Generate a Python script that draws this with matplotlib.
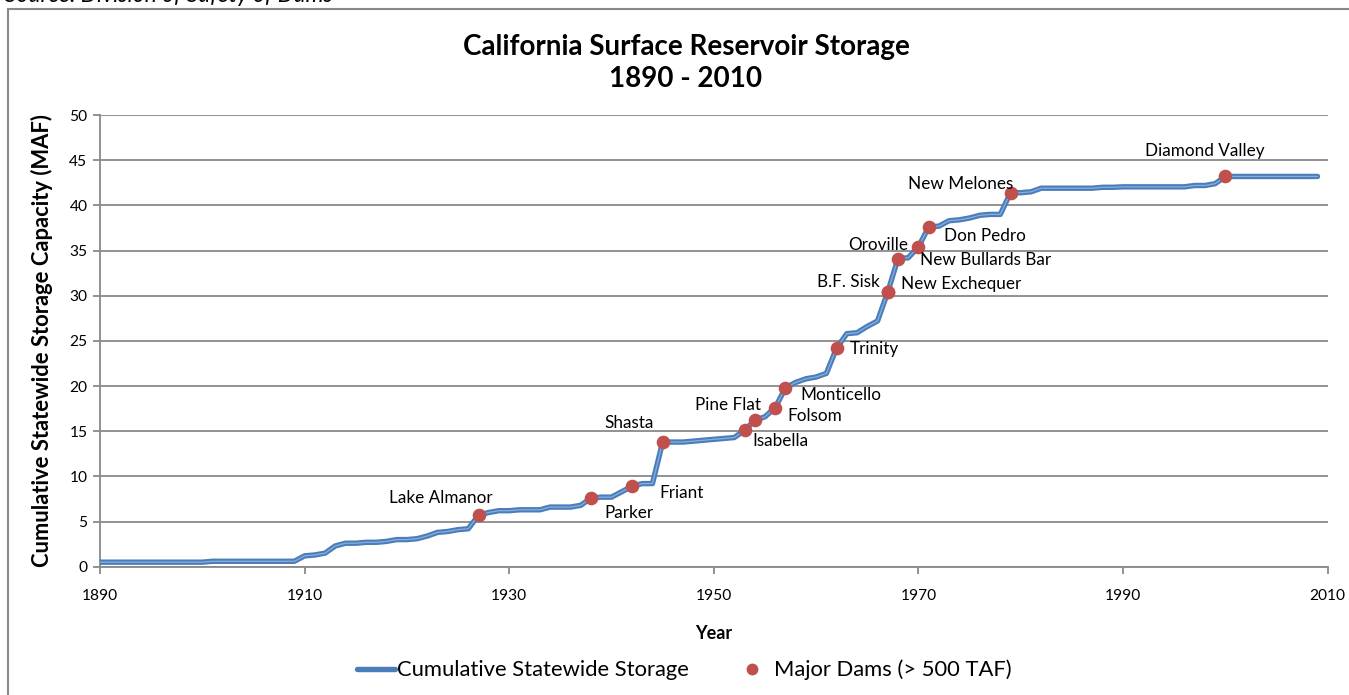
import matplotlib
matplotlib.use("Agg")
import matplotlib.pyplot as plt
import matplotlib.patches as patches
from matplotlib.lines import Line2D
import numpy as np

# Cumulative statewide storage (MAF), one value per year 1890-2009
years = np.arange(1890, 2010)
storage = (
    [0.5] * 11                                                      # 1890-1900
    + [0.6] * 9                                                     # 1901-1909
    + [1.2, 1.3, 1.5, 2.3, 2.6, 2.6, 2.7, 2.7, 2.8, 3.0]            # 1910s
    + [3.0, 3.1, 3.4, 3.8, 3.9, 4.1, 4.2, 5.7, 6.0, 6.2]            # 1920s
    + [6.2, 6.3, 6.3, 6.3, 6.6, 6.6, 6.6, 6.8, 7.6, 7.7]            # 1930s
    + [7.7, 8.3, 8.9, 9.2, 9.2, 13.8, 13.8, 13.8, 13.9, 14.0]       # 1940s
    + [14.1, 14.2, 14.3, 15.1, 16.2, 16.6, 17.6, 19.8, 20.4, 20.8]  # 1950s
    + [21.0, 21.4, 24.2, 25.8, 25.9, 26.6, 27.2, 30.4, 34.1, 34.2]  # 1960s
    + [35.4, 37.6, 37.7, 38.3, 38.4, 38.6, 38.9, 39.0, 39.0, 41.4]  # 1970s
    + [41.4, 41.5, 41.9, 41.9, 41.9, 41.9, 41.9, 41.9, 42.0, 42.0]  # 1980s
    + [42.05, 42.05, 42.05, 42.05, 42.05, 42.05, 42.05, 42.2, 42.2, 42.4]  # 1990s
    + [43.2] * 10                                                   # 2000s
)

# Major dams (> 500 TAF)
dam_names = ["Lake Almanor", "Parker", "Friant", "Shasta", "Isabella", "Pine Flat",
             "Folsom", "Monticello", "Trinity", "B.F. Sisk", "New Exchequer",
             "Oroville", "New Bullards Bar", "Don Pedro", "New Melones", "Diamond Valley"]
dam_years = [1927, 1938, 1942, 1945, 1953, 1954, 1956, 1957, 1962, 1967, 1967,
             1968, 1970, 1971, 1979, 2000]
dam_storage = [5.7, 7.6, 8.9, 13.8, 15.1, 16.2, 17.6, 19.8, 24.2, 30.4, 30.4,
               34.1, 35.4, 37.6, 41.4, 43.2]

# label offsets in pixels from each marker (dx, dy)
label_offsets = {
    "Lake Almanor": (-38, 17), "Parker": (38, -15), "Friant": (50, -7),
    "Shasta": (-34, 19), "Isabella": (36, -11), "Pine Flat": (-27, 15),
    "Folsom": (40, -8), "Monticello": (55, -7), "Trinity": (38, -1),
    "B.F. Sisk": (-39, 10), "New Exchequer": (73, 8), "Oroville": (-20, 14),
    "New Bullards Bar": (67, -13), "Don Pedro": (56, -9),
    "New Melones": (-50, 9), "Diamond Valley": (-21, 25),
}

plt.rcParams["font.family"] = ["Lato", "DejaVu Sans"]

grid_col = "#898989"
line_col = "#4A7EBB"
inner_col = "#8AAEDC"
dam_col = "#C0504D"

fig = plt.figure(figsize=(13.49, 6.95), dpi=100)
ax = fig.add_axes([0.0741, 0.1846, 0.9101, 0.6499])

ax.plot(years, storage, color=line_col, lw=3.9, solid_capstyle="round",
        solid_joinstyle="round", zorder=3)
ax.plot(years, storage, color=inner_col, lw=0.9, solid_joinstyle="round", zorder=4)
ax.plot(dam_years, dam_storage, "o", color=dam_col, ms=8.8, mec=dam_col, zorder=5)

for name, yr, val in zip(dam_names, dam_years, dam_storage):
    dx, dy = label_offsets[name]
    ax.annotate(name, (yr, val), xytext=(dx, dy), textcoords="offset pixels",
                ha="center", va="center", fontsize=12.3, color="black", zorder=6)

ax.set_xlim(1890, 2010)
ax.set_ylim(0, 50)
ax.set_xticks(np.arange(1890, 2011, 20))
ax.set_yticks(np.arange(0, 51, 5))
ax.grid(axis="y", color=grid_col, lw=1.3)
ax.set_axisbelow(True)
for s in ["top", "right"]:
    ax.spines[s].set_visible(False)
for s in ["left", "bottom"]:
    ax.spines[s].set_color(grid_col)
    ax.spines[s].set_linewidth(1.3)
ax.tick_params(axis="both", direction="out", color=grid_col, width=1.3, length=5,
               labelsize=11.2, pad=4)
ax.tick_params(axis="x", pad=11)

ax.set_xlabel("Year", fontsize=13, fontweight="bold", labelpad=16)
ax.set_ylabel("Cumulative Statewide Storage Capacity (MAF)", fontsize=15.8,
              fontweight="bold", labelpad=12)

fig.text(0.5085, 0.933, "California Surface Reservoir Storage", ha="center",
         va="center", fontsize=20, fontweight="bold")
fig.text(0.5085, 0.887, "1890 - 2010", ha="center", va="center", fontsize=20,
         fontweight="bold")
fig.text(0.004, 1 - 1.5 / 695, "Source: Division of Safety of Dams", ha="left",
         va="baseline", fontsize=16.5, style="italic")

# chart area border
fig.add_artist(patches.Rectangle((7.5 / 1349, -0.05), 1.1, 1 - 9 / 695 + 0.05,
                                 transform=fig.transFigure, fill=False,
                                 edgecolor=grid_col, lw=1.5))

handles = [
    Line2D([], [], color=line_col, lw=3.9, solid_capstyle="round"),
    Line2D([], [], ls="none", marker="o", color=dam_col, ms=7.5),
]
fig.legend(handles, ["Cumulative Statewide Storage", "Major Dams (> 500 TAF)"],
           loc="center", bbox_to_anchor=(0.507, 0.036), ncol=2, frameon=False,
           fontsize=15.8, handlelength=1.75, handletextpad=0.1, columnspacing=2.0)

fig.savefig("out.png", dpi=100)
